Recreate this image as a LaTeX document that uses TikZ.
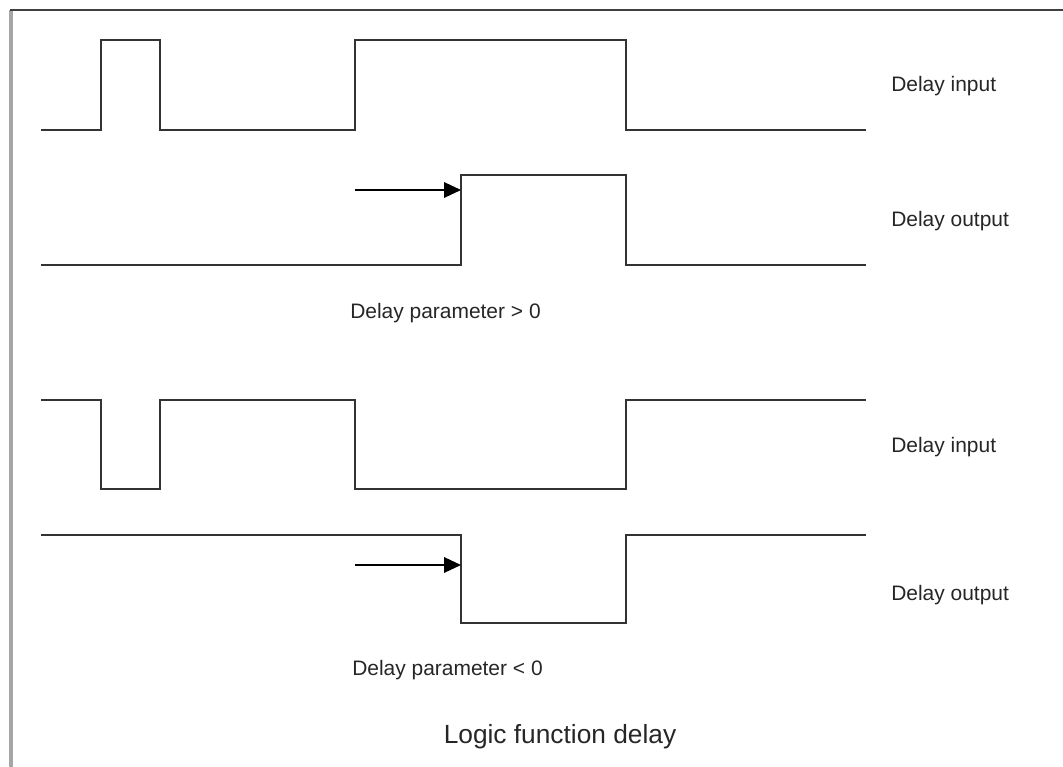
\documentclass[tikz,border=0pt]{standalone}
\usepackage{fontspec}
\setmainfont{Liberation Sans}
\usetikzlibrary{arrows.meta}

\begin{document}
\begin{tikzpicture}[x=0.025cm, y=-0.025cm,
    wave/.style={draw=black!80, line width=1.5pt, line join=miter},
    delayarrow/.style={draw=black, line width=1.1pt, -{Triangle[length=12pt, width=11pt]}},
    siglabel/.style={anchor=base west, inner sep=0pt, text=black!85, font=\fontsize{14.9pt}{17pt}\selectfont},
    titlelabel/.style={anchor=base, inner sep=0pt, text=black!85, font=\fontsize{18.7pt}{22pt}\selectfont}]

    \useasboundingbox (0,0) rectangle (1063,767);
    \draw[gray!70, line width=3pt] (11,767) -- (11,10);
    \draw[black!75, line width=1.5pt] (10,10) -- (1063,10);

    \draw[wave] (41,130) -- (101,130) -- (101,40) -- (160,40) -- (160,130)
        -- (355,130) -- (355,40) -- (626,40) -- (626,130) -- (866,130);
    \draw[wave] (41,265) -- (461,265) -- (461,175) -- (626,175) -- (626,265) -- (866,265);

    \coordinate (a1) at (355,190);
    \coordinate (e1) at (461,190);
    \draw[delayarrow] (a1) -- (e1);

    \node[siglabel] (in1) at (891,92) {Delay input};
    \node[siglabel] (out1) at (891,227) {Delay output};
    \node[siglabel] (pos) at (350,318) {Delay parameter > 0};

    \draw[wave] (41,400) -- (101,400) -- (101,489) -- (160,489) -- (160,400)
        -- (355,400) -- (355,489) -- (626,489) -- (626,400) -- (866,400);
    \draw[wave] (41,535) -- (461,535) -- (461,623) -- (626,623) -- (626,535) -- (866,535);

    \coordinate (a2) at (355,565);
    \coordinate (e2) at (461,565);
    \draw[delayarrow] (a2) -- (e2);

    \node[siglabel] (in2) at (891,452) {Delay input};
    \node[siglabel] (out2) at (891,600) {Delay output};
    \node[siglabel] (neg) at (352,675) {Delay parameter < 0};

    \node[titlelabel] (title) at (560,743) {Logic function delay};
\end{tikzpicture}
\end{document}
